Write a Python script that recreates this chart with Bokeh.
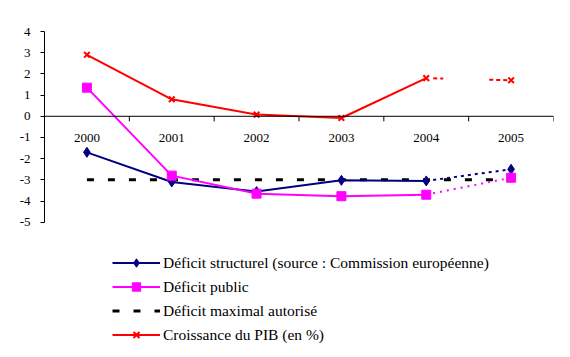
from bokeh.plotting import figure
from bokeh.models import FixedTicker, Span, Legend, LegendItem
from bokeh.core.properties import value
from bokeh.embed import file_html
from bokeh.resources import INLINE

years = [2000, 2001, 2002, 2003, 2004, 2005]
year_labels = ["2000", "2001", "2002", "2003", "2004", "2005"]
deficit_structurel = [-1.7, -3.1, -3.55, -3.02, -3.05, -2.5]
deficit_public = [1.35, -2.8, -3.65, -3.77, -3.7, -2.9]
deficit_max = [-3.0, -3.0, -3.0, -3.0, -3.0, -3.0]
croissance_pib = [2.9, 0.8, 0.08, -0.08, 1.8, 1.7]
y_ticks = [-5, -4, -3, -2, -1, 0, 1, 2, 3, 4]
y_tick_labels = ["-5", "-4", "-3", "-2", "-1", "0", "1", "2", "3", "4"]
legend_labels = [
    "Déficit structurel (source : Commission européenne)",
    "Déficit public",
    "Déficit maximal autorisé",
    "Croissance du PIB (en %)",
]

NAVY = "#000080"
MAGENTA = "#FF00FF"
RED = "#FF0000"
FONT = "Liberation Serif"

p = figure(width=570, height=357, x_range=(1999.5, 2005.5), y_range=(-11.38, 4),
           output_backend="svg", toolbar_location=None, x_axis_location=None,
           min_border_left=44, min_border_right=17, min_border_top=31, min_border_bottom=0)
p.outline_line_color = None
p.xgrid.visible = False
p.ygrid.visible = False
p.background_fill_color = "white"
p.border_fill_color = "white"

yax = p.yaxis[0]
yax.ticker = FixedTicker(ticks=y_ticks, minor_ticks=[])
yax.bounds = (-5, 4)
yax.major_label_overrides = {t: l for t, l in zip(y_ticks, y_tick_labels)}
yax.major_tick_in = 0
yax.major_tick_out = 4
yax.minor_tick_out = 0
yax.minor_tick_in = 0
yax.axis_line_color = "black"
yax.major_tick_line_color = "black"
yax.major_label_standoff = 10
yax.major_label_text_font = FONT
yax.major_label_text_font_size = "13px"
yax.major_label_text_color = "black"

# x axis drawn at y = 0
p.add_layout(Span(location=0, dimension="width", line_color="black", line_width=1))
bounds = [y + 0.5 for y in years]
p.segment(x0=bounds, y0=[0] * len(bounds), x1=bounds, y1=[-0.24] * len(bounds),
          line_color="black", line_width=1)
p.text(x=years, y=[0] * len(years), text=year_labels, text_font=value(FONT),
       text_font_size="13px", text_align="center", text_baseline="middle",
       y_offset=22, text_color="black")

# maximal deficit (dashed)
r_max = p.line(years, deficit_max, line_color="black", line_width=3, line_dash="7 14")

# structural deficit
r_s_line = p.line(years[:5], deficit_structurel[:5], line_color=NAVY, line_width=2)
p.line(years[4:], deficit_structurel[4:], line_color=NAVY, line_width=2, line_dash="3 4")
r_s_pts = p.scatter(years, deficit_structurel, marker="diamond", size=10,
                    fill_color=NAVY, line_color=NAVY)

# public deficit
r_p_line = p.line(years[:5], deficit_public[:5], line_color=MAGENTA, line_width=2)
p.line(years[4:], deficit_public[4:], line_color=MAGENTA, line_width=2, line_dash="2 5")
r_p_pts = p.scatter(years, deficit_public, marker="square", size=9,
                    fill_color=MAGENTA, line_color=MAGENTA)

# GDP growth
r_c_line = p.line(years[:5], croissance_pib[:5], line_color=RED, line_width=2)
p.line(years[4:], croissance_pib[4:], line_color=RED, line_width=2,
       line_dash="0 7 4 3 3 46 4 3 4 3 4 10")
r_c_pts = p.scatter(years, croissance_pib, marker="x", size=8,
                    line_color=RED, line_width=2)

legend = Legend(items=[
    LegendItem(label=legend_labels[0], renderers=[r_s_line, r_s_pts]),
    LegendItem(label=legend_labels[1], renderers=[r_p_line, r_p_pts]),
    LegendItem(label=legend_labels[2], renderers=[r_max]),
    LegendItem(label=legend_labels[3], renderers=[r_c_line, r_c_pts]),
], location=(68, 12))
legend.border_line_color = None
legend.background_fill_alpha = 0
legend.padding = 0
legend.margin = 0
legend.spacing = 3
legend.glyph_width = 48
legend.glyph_height = 21
legend.label_height = 21
legend.label_standoff = 3
legend.label_text_font = FONT
legend.label_text_font_size = "15.5px"
legend.label_text_color = "black"
p.add_layout(legend, "center")

open("out.html", "w").write(file_html(p, INLINE))
